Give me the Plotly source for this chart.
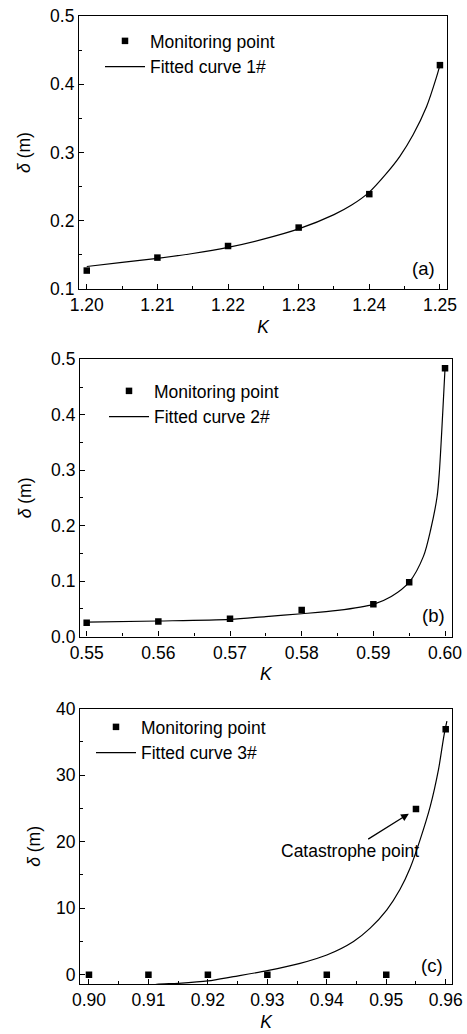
import plotly.graph_objects as go

# ---------------- data ----------------
# panel (a)
K_a = [1.20, 1.21, 1.22, 1.23, 1.24, 1.25]
d_a = [0.127, 0.146, 0.163, 0.190, 0.239, 0.428]
fitK_a = [1.20, 1.205, 1.21, 1.215, 1.22, 1.225, 1.23, 1.235, 1.2375, 1.24, 1.2424, 1.2443, 1.2462, 1.2481, 1.2495, 1.25]
fitd_a = [0.133, 0.139, 0.145, 0.152, 0.161, 0.173, 0.188, 0.209, 0.223, 0.242, 0.269, 0.294, 0.326, 0.367, 0.410, 0.428]

# panel (b)
K_b = [0.55, 0.56, 0.57, 0.58, 0.59, 0.595, 0.60]
d_b = [0.025, 0.027, 0.032, 0.048, 0.058, 0.098, 0.484]
fitK_b = [0.55, 0.56, 0.57, 0.575, 0.58, 0.585, 0.59, 0.5925, 0.595, 0.597, 0.598, 0.5989, 0.5992, 0.60]
fitd_b = [0.026, 0.028, 0.031, 0.036, 0.041, 0.047, 0.058, 0.072, 0.098, 0.145, 0.193, 0.253, 0.295, 0.484]

# panel (c)
K_c = [0.90, 0.91, 0.92, 0.93, 0.94, 0.95, 0.955, 0.96]
d_c = [0, 0, 0, 0, 0, 0, 24.9, 36.9]
fitK_c = [0.91, 0.9114, 0.915, 0.92, 0.9243, 0.93, 0.9355, 0.94, 0.9445, 0.9473, 0.9501, 0.9523,
          0.954, 0.9557, 0.9574, 0.9588, 0.9597, 0.9602]
fitd_c = [-1.7, -1.45, -1.3, -0.95, -0.3, 0.6, 1.7, 2.96, 5.0, 7.0, 9.75, 12.8,
          16.0, 20.3, 25.3, 30.9, 35.9, 38.1]

panel_labels = ["(a)", "(b)", "(c)"]
fit_names = ["Fitted curve 1#", "Fitted curve 2#", "Fitted curve 3#"]
point_name = "Monitoring point"
annot_text = "Catastrophe point"

# ---------------- figure ----------------
W, H = 467, 1034
FONT = "Liberation Sans, Arial, sans-serif"
FS = 17.5

fig = go.Figure()

panels = [
    (K_a, d_a, fitK_a, fitd_a, "x", "y", "legend"),
    (K_b, d_b, fitK_b, fitd_b, "x2", "y2", "legend2"),
    (K_c, d_c, fitK_c, fitd_c, "x3", "y3", "legend3"),
]
for i, (kx, dy, fk, fd, xa, ya, lg) in enumerate(panels):
    fig.add_trace(go.Scatter(
        x=kx, y=dy, mode="markers", name=point_name, legend=lg,
        marker=dict(symbol="square", size=6.5, color="black"),
        xaxis=xa, yaxis=ya, cliponaxis=True))
    fig.add_trace(go.Scatter(
        x=fk, y=fd, mode="lines", name=fit_names[i], legend=lg,
        line=dict(color="black", width=1.2, shape="spline", smoothing=0.8),
        xaxis=xa, yaxis=ya))

def px_x(p):
    return p / W

def px_y(p):
    return 1 - p / H

# pixel boxes (left, right, top, bottom)
boxes = [(79, 447, 16, 289), (80, 451.7, 359.3, 636.5), (80, 452.3, 708.5, 984.3)]
xranges = [[1.1989, 1.2510], [0.54907, 0.60093], [0.89849, 0.96111]]
yranges = [[0.1, 0.5], [0.0, 0.5], [-1.45, 40]]
xtick0 = [1.20, 0.55, 0.90]
xdt = [0.01, 0.01, 0.01]
ydt = [0.1, 0.1, 10]
yfmt = [".1f", ".1f", "d"]
ystand = [14, 14, 10]

common = dict(showline=True, linecolor="black", linewidth=1.2, mirror=True,
              ticks="inside", ticklen=5, tickwidth=1, tickcolor="black",
              showgrid=False, zeroline=False, automargin=False,
              tickfont=dict(family=FONT, size=FS, color="black"))

for i in range(3):
    l, r, t, b = boxes[i]
    sx = "" if i == 0 else str(i + 1)
    xa = dict(common, domain=[px_x(l), px_x(r)], range=xranges[i], dtick=xdt[i],
              tick0=xtick0[i], tickformat=".2f",
              anchor="y" + sx,
              minor=dict(ticks="inside", ticklen=3, tickcolor="black", dtick=xdt[i] / 2, showgrid=False),
              title=dict(text="<i>K</i>", font=dict(family=FONT, size=FS, color="black"), standoff=6))
    ya = dict(common, domain=[px_y(b), px_y(t)], range=yranges[i], dtick=ydt[i],
              tickformat=yfmt[i], anchor="x" + sx,
              minor=dict(ticks="inside", ticklen=3, tickcolor="black", dtick=ydt[i] / 2, showgrid=False),
              title=dict(text="<i>δ</i> (m)", font=dict(family=FONT, size=FS, color="black"),
                         standoff=ystand[i]))
    fig.layout["xaxis" + sx] = xa
    fig.layout["yaxis" + sx] = ya

# panel letters
letter_pos = [(423, 268), (433, 615), (432, 965)]
for i, (lx, ly) in enumerate(letter_pos):
    fig.add_annotation(text=panel_labels[i], x=px_x(lx), y=px_y(ly), xref="paper", yref="paper",
                       xanchor="center", yanchor="middle",
                       showarrow=False, font=dict(family=FONT, size=FS + 1, color="black"))

# catastrophe annotation (arrow head near the catastrophe point)
fig.add_annotation(text=annot_text, x=0.9538, y=24.2, xref="x3", yref="y3",
                   showarrow=True, arrowhead=2, arrowsize=1.3, arrowwidth=1.2, arrowcolor="black",
                   ax=-59, ay=37, font=dict(family=FONT, size=FS, color="black"))

# legends
leg_pos = [(145, 36), (149, 386), (136, 722)]
for i, (tx, ty) in enumerate(leg_pos):
    key = "legend" if i == 0 else "legend%d" % (i + 1)
    fig.layout[key] = dict(x=px_x(tx - 45), y=px_y(ty - 13), xanchor="left", yanchor="top",
                           bgcolor="rgba(0,0,0,0)", borderwidth=0, itemwidth=40,
                           tracegroupgap=0,
                           font=dict(family=FONT, size=FS, color="black"))

fig.update_layout(width=W, height=H, autosize=False,
                  margin=dict(l=0, r=0, t=0, b=0, autoexpand=False),
                  paper_bgcolor="white", plot_bgcolor="white",
                  showlegend=True)

fig.write_html("out.html", config={"displayModeBar": False},
               post_script="document.body.style.margin='0';")
